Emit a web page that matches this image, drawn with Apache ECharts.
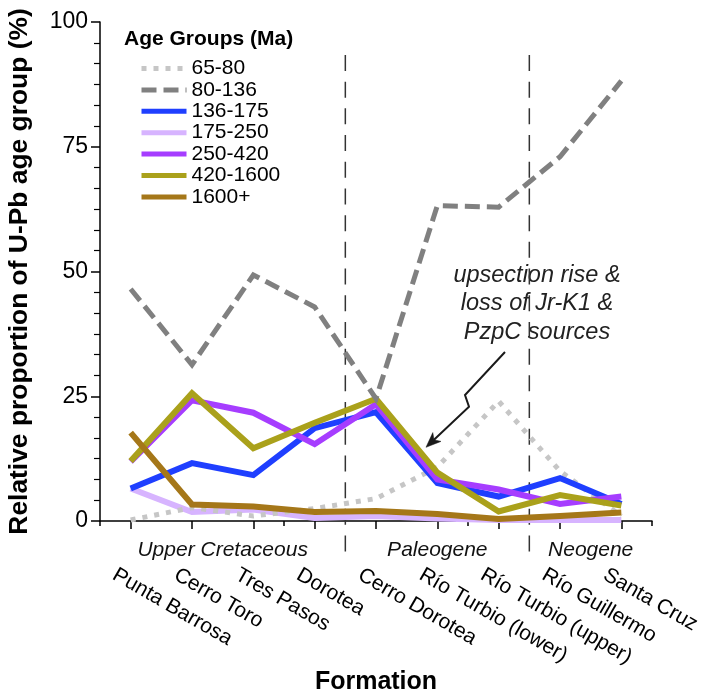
<!DOCTYPE html>
<html><head><meta charset="utf-8">
<script src="https://cdn.jsdelivr.net/npm/echarts@6/dist/echarts.min.js"></script>
<style>html,body{margin:0;padding:0;background:#fff}#c{width:711px;height:698px}</style>
</head><body><div id="c"></div>
<script>
// ---------- data ----------
const formations = ['Punta Barrosa','Cerro Toro','Tres Pasos','Dorotea','Cerro Dorotea','Río Turbio (lower)','Río Turbio (upper)','Río Guillermo','Santa Cruz'];
const groupNames = ['65-80','80-136','136-175','175-250','250-420','420-1600','1600+'];
const g65_80    = [0.2, 2.7, 1.0, 2.5, 4.5, 10.8, 24.0, 10.0, 1.0];
const g80_136   = [46.5, 31.3, 49.3, 42.9, 24.5, 63.2, 62.9, 73.0, 88.2];
const g136_175  = [6.5, 11.6, 9.2, 18.6, 21.8, 7.6, 4.9, 8.6, 3.4];
const g175_250  = [6.5, 1.8, 2.3, 0.6, 1.0, 0.5, 0.2, 0.2, 0.2];
const g250_420  = [11.9, 24.2, 21.7, 15.4, 23.4, 8.3, 6.3, 3.4, 4.9];
const g420_1600 = [12.0, 25.6, 14.6, 19.7, 24.5, 9.7, 1.9, 5.2, 3.1];
const g1600     = [17.7, 3.3, 2.9, 1.8, 2.0, 1.4, 0.4, 1.0, 1.7];
const periodNames = ['Upper Cretaceous','Paleogene','Neogene'];
const periodCenters = [1.5, 5, 7.5];      // in category-index units
const periodBoundaries = [3.5, 6.5];      // between categories
const yTickInterval = 25;

// ---------- style ----------
const FF = '"Liberation Sans", Arial, Helvetica, sans-serif';
const chart = echarts.init(document.getElementById('c'), null, {renderer:'canvas'});

function lineSeries(name, data, color, width, type, z) {
  return {
    name, type:'line', data, xAxisIndex:0, yAxisIndex:0,
    symbol:'none', showSymbol:false, z,
    lineStyle:{color, width, type, join:'miter', cap:'butt'},
    itemStyle:{color},
    emphasis:{disabled:true}, animation:false
  };
}

const option = {
  animation:false,
  title:{text:'Age Groups (Ma)', left:124, top:29, padding:0,
    textStyle:{fontSize:21, fontWeight:'bold', color:'#000', fontFamily:FF}},
  legend:{
    orient:'vertical', left:139, top:58, padding:0,
    itemWidth:45, itemHeight:14, itemGap:0.4, selectedMode:false,
    data:groupNames,
    lineStyle:{width:5},
    itemStyle:{opacity:0},
    textStyle:{fontSize:21, color:'#000', fontFamily:FF, lineHeight:21}
  },
  grid:{left:100, right:59, top:22, bottom:177, containLabel:false, outerBoundsMode:'none'},
  xAxis:[
    { type:'category', data:formations, position:'bottom', boundaryGap:true,
      name:'Formation', nameLocation:'middle', nameGap:149, nameMoveOverlap:false,
      nameTextStyle:{fontSize:25, fontWeight:'bold', color:'#000', fontFamily:FF},
      axisLine:{show:true, onZero:false, lineStyle:{color:'#000', width:1.5}},
      axisTick:{show:true, alignWithLabel:true, length:8, lineStyle:{color:'#000', width:1.5}},
      axisLabel:{interval:0, rotate:-30, margin:62, fontSize:21, color:'#000', fontFamily:FF,
        padding:[0,0,0,-19]},
      splitLine:{show:false}
    },
    { type:'category', data:formations, position:'bottom', boundaryGap:true,
      axisLine:{show:false, onZero:false},
      axisTick:{show:true, alignWithLabel:false, length:5, lineStyle:{color:'#000', width:1.5}},
      axisLabel:{show:false}, splitLine:{show:false}
    },
    { type:'value', min:-0.5, max:8.5, position:'bottom', show:false, axisLine:{onZero:false} }
  ],
  yAxis:[{
    type:'value', min:0, max:100, interval:yTickInterval,
    name:'Relative proportion of U-Pb age group (%)', nameLocation:'middle', nameGap:67, nameMoveOverlap:false,
    nameTextStyle:{fontSize:26.4, fontWeight:'bold', color:'#000', fontFamily:FF},
    axisLine:{show:true, onZero:false, lineStyle:{color:'#000', width:1.5}},
    axisTick:{show:true, inside:false, length:9, lineStyle:{color:'#000', width:1.5}},
    minorTick:{show:true, splitNumber:6, length:6, lineStyle:{color:'#000', width:1.2}},
    axisLabel:{fontSize:23, color:'#000', fontFamily:FF, margin:12},
    splitLine:{show:false}, minorSplitLine:{show:false}
  }],
  series:[
    lineSeries('175-250', g175_250, '#d7b4ff', 6, 'solid', 2),
    lineSeries('65-80', g65_80, '#c6c6c6', 5, [5,7], 3),
    lineSeries('136-175', g136_175, '#1f3fff', 6, 'solid', 4),
    lineSeries('250-420', g250_420, '#a63dff', 6, 'solid', 5),
    lineSeries('420-1600', g420_1600, '#aaa11b', 6, 'solid', 6),
    lineSeries('1600+', g1600, '#a57719', 6, 'solid', 7),
    lineSeries('80-136', g80_136, '#808080', 5, [15,7], 8),
    { type:'custom', name:'dividers', coordinateSystem:'cartesian2d', xAxisIndex:2, yAxisIndex:0,
      clip:false, silent:true, z:1, data:periodBoundaries.map(v=>[v]),
      renderItem(params, api){
        const x = api.value(0);
        const top = api.coord([x, 93.4]);
        const bot = api.coord([x, 0]);
        return {type:'line', shape:{x1:top[0], y1:top[1], x2:bot[0], y2:bot[1]+31},
          style:{stroke:'#333', lineWidth:1.5, lineDash:[16,10.7]}};
      }
    },
    { type:'custom', name:'periods', coordinateSystem:'cartesian2d', xAxisIndex:2, yAxisIndex:0,
      clip:false, silent:true, z:1, data:periodCenters.map(v=>[v]),
      renderItem(params, api){
        const c = api.coord([api.value(0), 0]);
        return {type:'text', x:c[0], y:c[1]+29,
          style:{text:periodNames[params.dataIndex], fontSize:21, fontStyle:'italic', fontFamily:FF,
            fill:'#111', align:'center', verticalAlign:'middle'}};
      }
    }
  ],
  graphic:[
    {type:'text', x:537, y:261, silent:true,
      style:{text:'upsection rise &\nloss of Jr-K1 &\nPzpC sources', fontSize:23.5, fontStyle:'italic',
        fontFamily:FF, lineHeight:28.5, align:'center', verticalAlign:'top', fill:'#222'}},
    {type:'polyline', silent:true, shape:{points:[[505,352],[465,395],[469,406.7],[434,439.7]]},
      style:{stroke:'#1a1a1a', lineWidth:2, fill:null}},
    {type:'polygon', silent:true, shape:{points:[[426,447.3],[441,441.4],[434,439.7],[432.8,432.6]]},
      style:{fill:'#1a1a1a', stroke:'#1a1a1a', lineWidth:0.5}}
  ]
};
chart.setOption(option);
</script></body></html>
